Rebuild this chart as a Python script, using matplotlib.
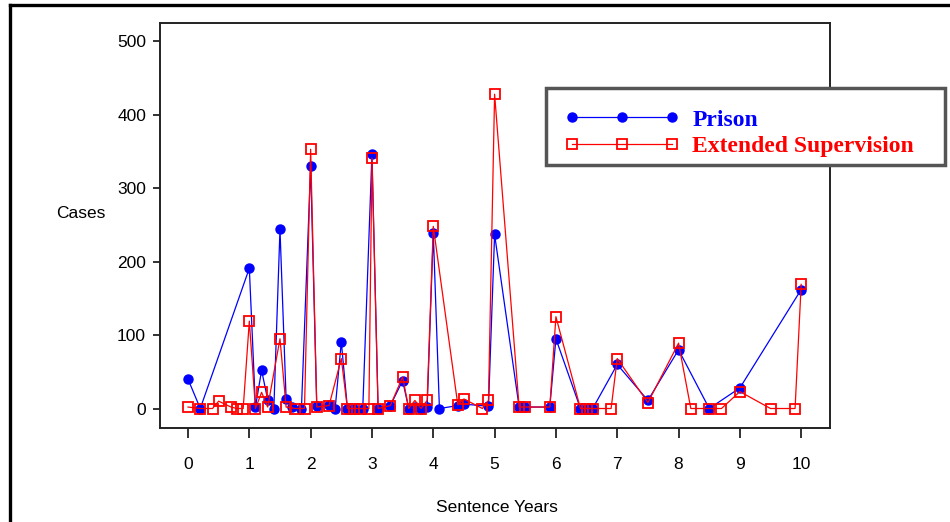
import matplotlib
matplotlib.use('Agg')
import matplotlib.pyplot as plt
from matplotlib.lines import Line2D
from matplotlib.patches import Rectangle

# sentence length (years) and case counts for each disposition
prison_years = [0.0, 0.2, 1.0, 1.1, 1.2, 1.3, 1.4, 1.5, 1.6, 1.7, 1.85, 2.0, 2.1, 2.3,
                2.4, 2.5, 2.6, 2.7, 2.85, 3.0, 3.1, 3.3, 3.5, 3.6, 3.7, 3.8, 3.9, 4.0,
                4.1, 4.4, 4.5, 4.9, 5.0, 5.4, 5.5, 5.9, 6.0, 6.4, 6.5, 6.6, 7.0, 7.5,
                8.0, 8.5, 9.0, 10.0]
prison_cases = [40, 0, 191, 2, 52, 12, 0, 244, 13, 2, 0, 330, 3, 5,
                0, 91, 0, 0, 0, 347, 0, 4, 38, 0, 2, 0, 2, 239,
                0, 4, 6, 3, 237, 2, 2, 2, 95, 0, 0, 0, 60, 11,
                80, 0, 28, 162]

ext_years = [0.0, 0.2, 0.4, 0.5, 0.7, 0.8, 0.9, 1.0, 1.1, 1.2, 1.3, 1.5, 1.6, 1.75,
             1.9, 2.0, 2.1, 2.3, 2.5, 2.6, 2.7, 2.8, 2.95, 3.0, 3.1, 3.3, 3.5, 3.6,
             3.7, 3.8, 3.9, 4.0, 4.4, 4.5, 4.8, 4.9, 5.0, 5.4, 5.5, 5.9, 6.0, 6.4,
             6.5, 6.6, 6.9, 7.0, 7.5, 8.0, 8.2, 8.5, 8.7, 9.0, 9.5, 9.9, 10.0]
ext_cases = [2, 0, 0, 10, 2, 0, 0, 119, 0, 22, 2, 95, 2, 0,
             0, 353, 2, 4, 68, 0, 0, 0, 0, 341, 0, 4, 43, 0,
             11, 0, 11, 248, 5, 13, 0, 11, 428, 2, 2, 2, 125, 0,
             0, 0, 0, 68, 8, 89, 0, 0, 0, 23, 0, 0, 169]

x_ticks = list(range(0, 11))
y_ticks = [0, 100, 200, 300, 400, 500]

W, H = 950, 522
fig = plt.figure(figsize=(W / 100, H / 100), dpi=100)
ax = fig.add_axes([0.1684, 0.180, 0.7053, 0.776])

ax.plot(prison_years, prison_cases, color='#0000ff', lw=0.9, marker='o',
        markersize=6.5, markerfacecolor='#0000ff', markeredgecolor='#0000ff',
        label='Prison', zorder=2)
ax.plot(ext_years, ext_cases, color='#ff0000', lw=0.9, marker='s',
        markersize=7.5, markerfacecolor='none', markeredgecolor='#ff0000',
        markeredgewidth=1.3, label='Extended Supervision', zorder=3)

ax.set_xlim(-0.457, 10.47)
ax.set_ylim(-26.6, 525)
ax.set_xticks(x_ticks)
ax.set_yticks(y_ticks)

tick_font = {'family': 'Liberation Sans', 'size': 12.5}
ax.set_xticklabels([str(t) for t in x_ticks], fontdict=tick_font)
ax.set_yticklabels([str(t) for t in y_ticks], fontdict=tick_font)
ax.tick_params(axis='x', direction='out', length=7, width=1.3, color='#222222', pad=13.5)
ax.tick_params(axis='y', direction='out', length=5, width=1.3, color='#222222', pad=5)
for spine in ax.spines.values():
    spine.set_color('#222222')
    spine.set_linewidth(1.4)

fig.text(81 / W, 1 - 213 / H, 'Cases', ha='center', va='center',
         fontfamily='Liberation Sans', fontsize=12.5)
fig.text(497 / W, 1 - 507 / H, 'Sentence Years', ha='center', va='center',
         fontfamily='Liberation Sans', fontsize=12.5)

# legend: separate box so the padding can be uneven
box = Rectangle((546 / W, 1 - 165 / H), (945 - 546) / W, (165 - 88) / H,
                transform=fig.transFigure, facecolor='white', edgecolor='#555555',
                linewidth=2.5, zorder=1)
fig.add_artist(box)

handles, labels = ax.get_legend_handles_labels()
leg = fig.legend(handles, labels, loc='upper left',
                 bbox_to_anchor=(565 / W, 1 - 109 / H), bbox_transform=fig.transFigure,
                 borderaxespad=0, borderpad=0, numpoints=3, handlelength=4.85,
                 handletextpad=0.55, labelspacing=0.22, frameon=False,
                 prop={'family': 'Liberation Serif', 'weight': 'bold', 'size': 17})
for text, col in zip(leg.get_texts(), ['#0000ff', '#ff0000']):
    text.set_color(col)

# outer page frame along the left and top edges
fig.add_artist(Line2D([10 / W, 10 / W], [0, 1 - 5 / H], color='black',
                      lw=2.4, transform=fig.transFigure))
fig.add_artist(Line2D([10 / W, 1], [1 - 5 / H, 1 - 5 / H], color='black',
                      lw=2.4, transform=fig.transFigure))

fig.savefig('out.png', dpi=100)
